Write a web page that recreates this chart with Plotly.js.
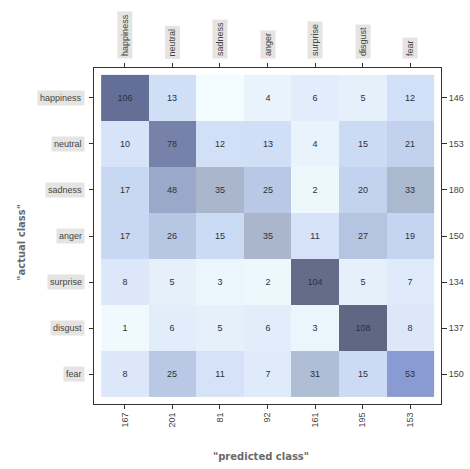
<!DOCTYPE html>
<html>
<head>
<meta charset="utf-8">
<script src="https://cdn.plot.ly/plotly-3.0.1.min.js"></script>
<style>html,body{margin:0;padding:0;background:#fff;}#chart{width:470px;height:469px;}</style>
</head>
<body>
<div id="chart"></div>
<script>
// Classes (rows = actual, columns = predicted)
const classes = ["happiness", "neutral", "sadness", "anger", "surprise", "disgust", "fear"];
// Confusion matrix values, one array per actual class
const happiness = [106, 13, 0, 4, 6, 5, 12];
const neutral   = [10, 78, 12, 13, 4, 15, 21];
const sadness   = [17, 48, 35, 25, 2, 20, 33];
const anger     = [17, 26, 15, 35, 11, 27, 19];
const surprise  = [8, 5, 3, 2, 104, 5, 7];
const disgust   = [1, 6, 5, 6, 3, 108, 8];
const fear      = [8, 25, 11, 7, 31, 15, 53];
// Totals shown as tick labels
const rowTotals = [146, 153, 180, 150, 134, 137, 150];
const colTotals = [167, 201, 81, 92, 161, 195, 153];

const z = [happiness, neutral, sadness, anger, surprise, disgust, fear];
const idx = classes.map((c, i) => i);
const cellText = z.map(r => r.map(v => v === 0 ? "" : String(v)));

const zmax = 108;
const colorscale = [
  [0.00, "#f3fcff"],
  [0.03, "#eaf5fc"],
  [0.07, "#dde8fa"],
  [0.12, "#d0def6"],
  [0.19, "#c2d2ef"],
  [0.25, "#b5c4e0"],
  [0.32, "#a9b6cb"],
  [0.44, "#9caac8"],
  [0.49, "#8a9ad2"],
  [0.72, "#7682ab"],
  [0.95, "#62686f"],
  [0.975, "#6672a0"],
  [1.00, "#5f6882"]
];

const labelFont = {family: "Liberation Sans, Arial, sans-serif", size: 9, color: "#444"};

const annotations = [];
classes.forEach((c, i) => {
  annotations.push({
    text: c, xref: "paper", yref: "y", x: 0, y: i,
    xanchor: "right", yanchor: "middle", xshift: -9,
    showarrow: false, bgcolor: "#e6e4e2", borderpad: 2,
    font: labelFont
  });
  annotations.push({
    text: c, xref: "x", yref: "paper", x: i, y: 1,
    xanchor: "center", yanchor: "bottom", yshift: 9, textangle: -90,
    showarrow: false, bgcolor: "#e6e4e2", borderpad: 2,
    font: labelFont
  });
});
const titleFont = {family: "DejaVu Sans, sans-serif", size: 10, color: "#6a6a6a", weight: "bold"};
annotations.push({
  text: '"actual class"', xref: "paper", yref: "paper", x: 0, y: 0.48,
  xanchor: "center", yanchor: "middle", xshift: -72, textangle: -90,
  showarrow: false, font: titleFont
});
annotations.push({
  text: '"predicted class"', xref: "paper", yref: "paper", x: 0.48, y: 0,
  xanchor: "center", yanchor: "middle", yshift: -52,
  showarrow: false, font: titleFont
});

const traces = [
  {
    type: "heatmap", z: z, x: idx, y: idx,
    text: cellText, texttemplate: "%{text}",
    textfont: {family: "Liberation Sans, Arial, sans-serif", size: 9, color: "#2a3040"},
    colorscale: colorscale, zmin: 0, zmax: zmax, showscale: false,
    hoverinfo: "skip"
  },
  {
    type: "scatter", x: idx, y: idx, yaxis: "y2", mode: "markers",
    marker: {opacity: 0}, hoverinfo: "skip", showlegend: false
  }
];

const layout = {
  width: 470, height: 469,
  margin: {l: 94, r: 29, t: 68, b: 65},
  paper_bgcolor: "#ffffff", plot_bgcolor: "#ffffff",
  showlegend: false,
  xaxis: {
    range: [-0.65, 6.65], tickvals: idx, ticktext: colTotals.map(String),
    tickangle: -90, ticks: "outside", ticklen: 4, tickcolor: "#333",
    showgrid: false, zeroline: false, showline: true, mirror: "ticks",
    linecolor: "#333", linewidth: 1,
    tickfont: {family: "Liberation Sans, Arial, sans-serif", size: 9, color: "#444"}
  },
  yaxis: {
    range: [6.65, -0.65], tickvals: idx, ticktext: classes.map(() => ""),
    ticks: "outside", ticklen: 4, tickcolor: "#333",
    showgrid: false, zeroline: false, showline: true, mirror: true,
    linecolor: "#333", linewidth: 1
  },
  yaxis2: {
    overlaying: "y", side: "right", range: [6.65, -0.65],
    tickvals: idx, ticktext: rowTotals.map(String),
    ticks: "outside", ticklen: 5, tickcolor: "#333",
    showgrid: false, zeroline: false, showline: false,
    tickfont: {family: "Liberation Sans, Arial, sans-serif", size: 9, color: "#444"}
  },
  annotations: annotations
};

Plotly.newPlot("chart", traces, layout, {displayModeBar: false, staticPlot: true});
</script>
</body>
</html>
